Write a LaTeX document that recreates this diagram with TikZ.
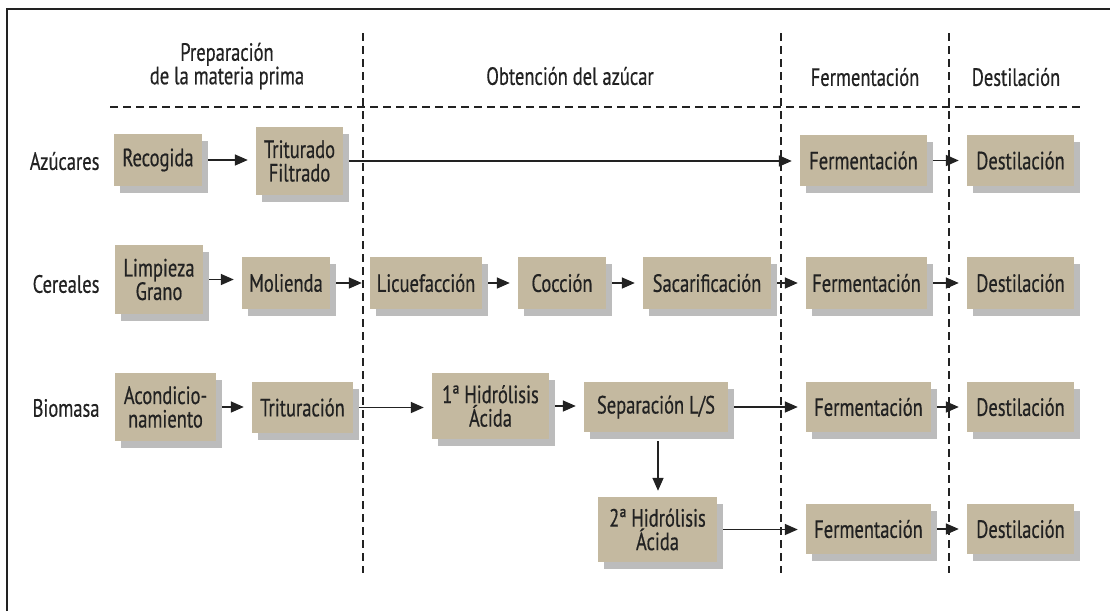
\documentclass[tikz,border=0pt]{standalone}
\usepackage{fontspec}
\setmainfont{PT Sans}[FakeStretch=0.74,FakeBold=0.5]
\usetikzlibrary{arrows.meta,shadows,calc}
\definecolor{boxfill}{HTML}{C4B9A0}
\definecolor{shade}{HTML}{BCBCBC}
\definecolor{ink}{HTML}{222222}
\newcommand{\bodyfont}{\fontsize{25}{23.5}\selectfont}
\begin{document}
\begin{tikzpicture}[x=1pt,y=-1pt,
  stage/.style={fill=boxfill, text=ink, inner sep=0pt, align=center, font=\bodyfont,
    drop shadow={shadow xshift=6pt, shadow yshift=-7pt, fill=shade, opacity=1}},
  rowlabel/.style={anchor=east, text=ink, font=\bodyfont},
  head/.style={text=ink, align=center, font=\bodyfont},
  flow/.style={draw=ink, line width=1.6pt, -{Triangle[length=13pt,width=11pt]}},
  lane/.style={draw=ink, line width=1.3pt, dash pattern=on 8pt off 5pt}]
\useasboundingbox (0,0) rectangle (1110,611);
% frame
\draw[ink, line width=2.5pt] (7,611) -- (7,9) -- (1110,9);
% lanes
\draw[lane] (110,107) -- (1082,107);
\foreach \x in {363,781,949} \draw[lane] (\x,33) -- (\x,573);
% headers
\node[head] (h1) at (227,66) {Preparación\\de la materia prima};
\node[head] (h2) at (570,76) {Obtención del azúcar};
\node[head] (h3) at (865,77) {Fermentación};
\node[head] (h4) at (1016,77) {Destilación};
% row labels
\node[rowlabel] (lA) at (103,161) {Azúcares};
\node[rowlabel] (lC) at (103,284) {Cereales};
\node[rowlabel] (lB) at (103,408) {Biomasa};
% row 1
\node[stage, minimum width=88pt, minimum height=52pt] (rec) at (158,160) {Recogida};
\node[stage, minimum width=87pt, minimum height=68pt] (tri) at (299.5,161) {Triturado\\Filtrado};
\node[stage, minimum width=127pt, minimum height=51pt] (f1) at (863.5,160.5) {Fermentación};
\node[stage, minimum width=107pt, minimum height=51pt] (d1) at (1020.5,160.5) {Destilación};
% row 2
\node[stage, minimum width=88pt, minimum height=69pt] (lim) at (159,279.5) {Limpieza\\Grano};
\node[stage, minimum width=88pt, minimum height=52pt] (mol) at (286,283) {Molienda};
\node[stage, minimum width=112pt, minimum height=52pt] (lic) at (426,283) {Licuefacción};
\node[stage, minimum width=88pt, minimum height=52pt] (coc) at (562,283) {Cocción};
\node[stage, minimum width=128pt, minimum height=52pt] (sac) at (707,283) {Sacarificación};
\node[stage, minimum width=121pt, minimum height=52pt] (f2) at (866.5,283) {Fermentación};
\node[stage, minimum width=107pt, minimum height=52pt] (d2) at (1020.5,283) {Destilación};
% row 3
\node[stage, minimum width=101pt, minimum height=68pt] (aco) at (165.5,407) {Acondicio-\\namiento};
\node[stage, minimum width=101pt, minimum height=51pt] (trn) at (302.5,407.5) {Trituración};
\node[stage, minimum width=117pt, minimum height=66pt] (hi1) at (490.5,406) {1ª Hidrólisis\\Ácida};
\node[stage, minimum width=144pt, minimum height=50pt] (sep) at (656,407) {Separación L/S};
\node[stage, minimum width=125pt, minimum height=50pt] (f3) at (868.5,407) {Fermentación};
\node[stage, minimum width=107pt, minimum height=50pt] (d3) at (1020.5,407) {Destilación};
% row 4
\node[stage, minimum width=119pt, minimum height=65pt] (hi2) at (657.5,529.5) {2ª Hidrólisis\\Ácida};
\node[stage, minimum width=125pt, minimum height=50pt] (f4) at (868.5,529) {Fermentación};
\node[stage, minimum width=107pt, minimum height=50pt] (d4) at (1020.5,529) {Destilación};
% connectors
\foreach \a/\b in {rec/tri,tri/f1,f1/d1,lim/mol,mol/lic,lic/coc,coc/sac,sac/f2,f2/d2,
                   aco/trn,trn/hi1,hi1/sep,sep/f3,f3/d3,hi2/f4,f4/d4}
  \draw[flow] ($(\a.east)+(6,0)$) -- ($(\a.east -| \b.west)+(-8,0)$);
\draw[flow] ($(sep.south)+(2,9)$) -- ($(sep.south |- hi2.north)+(2,-6)$);
\end{tikzpicture}
\end{document}
